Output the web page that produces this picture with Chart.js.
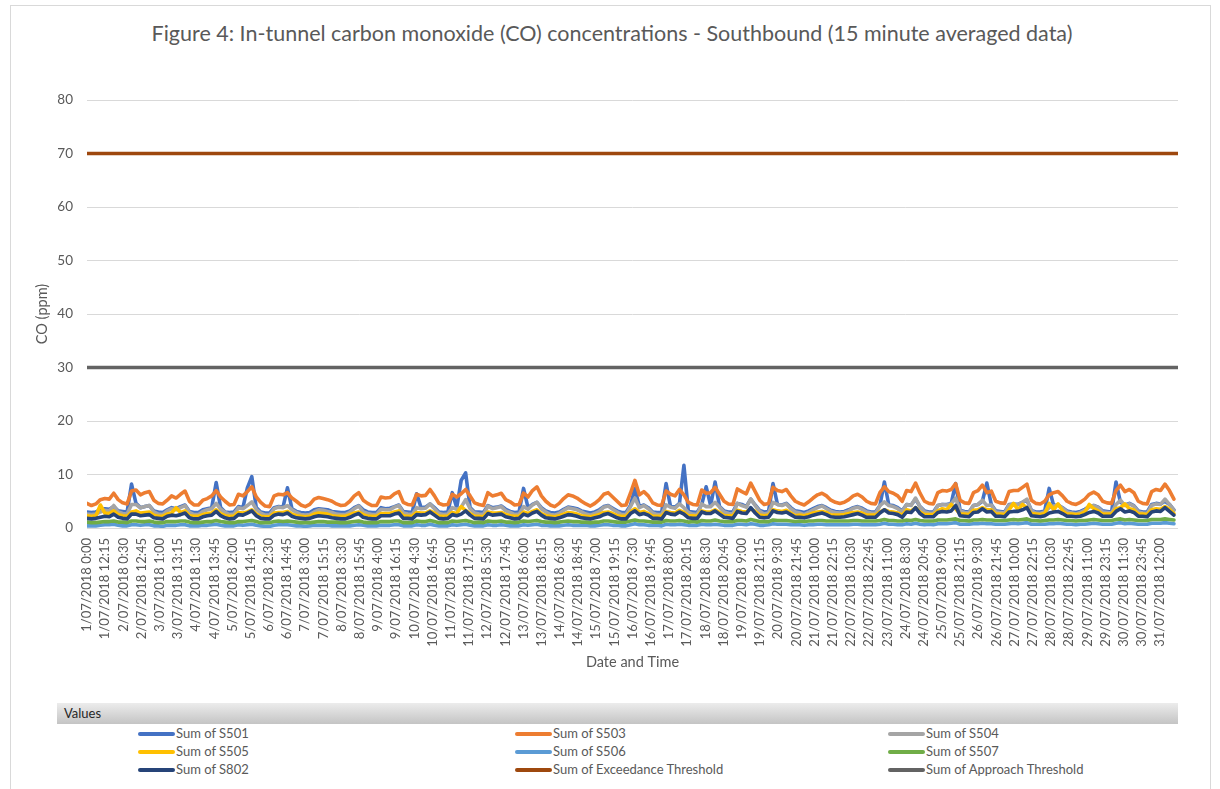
<!DOCTYPE html>
<html>
<head>
<meta charset="utf-8">
<script src="https://cdn.jsdelivr.net/npm/chart.js@4.4.1/dist/chart.umd.min.js"></script>
<style>
  html, body { margin:0; padding:0; background:#fff; }
  body { width:1220px; height:789px; position:relative; overflow:hidden; font-family:Lato, "DejaVu Sans", sans-serif; }
  #frame { position:absolute; left:10px; top:5px; width:1201px; height:820px; border:1px solid #d9d9d9; box-sizing:border-box; }
  #title { position:absolute; left:0; top:20px; width:1224px; text-align:center; font-size:21.5px; color:#595959; white-space:nowrap; }
  #c { position:absolute; left:0; top:0; }
  #valuesBar { position:absolute; left:57px; top:703px; width:1121px; height:21px; background:linear-gradient(#ececec,#c4c4c4); font-size:13px; color:#262626; line-height:21px; padding-left:7px; box-sizing:border-box; }
  #legend { position:absolute; left:0; top:724px; width:1220px; height:60px; }
  .li { position:absolute; height:18px; line-height:18px; font-size:13px; color:#595959; white-space:nowrap; }
  .li span.sw { display:inline-block; width:37px; height:4px; border-radius:2px; vertical-align:middle; margin-right:1px; position:relative; top:-1px; }
</style>
</head>
<body>
<div id="frame"></div>
<div id="title">Figure 4: In-tunnel carbon monoxide (CO) concentrations - Southbound (15 minute averaged data)</div>
<canvas id="c" width="1220" height="700"></canvas>
<div id="valuesBar">Values</div>
<div id="legend"></div>
<script>
// x-axis tick labels (one every 49 fifteen-minute samples)
const tickLabels = ['1/07/2018 0:00','1/07/2018 12:15','2/07/2018 0:30','2/07/2018 12:45','3/07/2018 1:00','3/07/2018 13:15','4/07/2018 1:30','4/07/2018 13:45','5/07/2018 2:00','5/07/2018 14:15','6/07/2018 2:30','6/07/2018 14:45','7/07/2018 3:00','7/07/2018 15:15','8/07/2018 3:30','8/07/2018 15:45','9/07/2018 4:00','9/07/2018 16:15','10/07/2018 4:30','10/07/2018 16:45','11/07/2018 5:00','11/07/2018 17:15','12/07/2018 5:30','12/07/2018 17:45','13/07/2018 6:00','13/07/2018 18:15','14/07/2018 6:30','14/07/2018 18:45','15/07/2018 7:00','15/07/2018 19:15','16/07/2018 7:30','16/07/2018 19:45','17/07/2018 8:00','17/07/2018 20:15','18/07/2018 8:30','18/07/2018 20:45','19/07/2018 9:00','19/07/2018 21:15','20/07/2018 9:30','20/07/2018 21:45','21/07/2018 10:00','21/07/2018 22:15','22/07/2018 10:30','22/07/2018 22:45','23/07/2018 11:00','24/07/2018 8:30','24/07/2018 20:45','25/07/2018 9:00','25/07/2018 21:15','26/07/2018 9:30','26/07/2018 21:45','27/07/2018 10:00','27/07/2018 22:15','28/07/2018 10:30','28/07/2018 22:45','29/07/2018 11:00','29/07/2018 23:15','30/07/2018 11:30','30/07/2018 23:45','31/07/2018 12:00'];

// series values, one value per 3 hours (12 fifteen-minute samples)
const S501 = [
3.0,2.9,3.0,3.4,3.6,3.5,4.0,3.2, 3.1,3.0,8.2,4.6,3.8,4.0,4.2,3.2, 3.0,2.9,3.4,3.8,3.6,4.0,4.3,3.1, 2.9,2.9,3.4,3.6,3.8,8.5,3.8,3.0,
2.9,3.0,4.0,3.8,7.5,9.6,3.8,3.0, 2.8,2.8,3.8,4.0,3.9,7.5,3.6,3.1, 2.9,2.8,2.9,3.4,3.6,3.5,3.4,3.1, 3.0,2.9,2.9,3.2,3.8,4.2,3.4,3.0,
2.9,2.9,3.8,3.6,3.7,4.0,4.3,3.1, 3.0,2.9,6.4,3.8,3.9,4.5,3.8,3.0, 2.9,3.0,6.6,3.8,8.9,10.3,3.8,3.0, 3.0,2.9,4.2,3.8,3.9,4.1,3.5,3.1,
2.9,3.0,7.4,3.8,4.4,4.8,3.8,3.2, 2.9,2.8,3.0,3.5,3.9,3.8,3.6,3.2, 3.0,2.8,3.0,3.4,4.0,4.2,3.7,3.2, 2.9,2.9,4.2,7.4,4.0,4.3,3.8,3.0,
2.9,2.9,8.3,4.0,3.9,4.6,11.7,3.1, 3.0,2.9,4.4,7.7,4.2,8.6,4.0,3.2, 3.0,3.0,4.6,4.4,4.0,5.4,4.3,3.3, 3.0,3.1,8.3,4.4,4.3,4.6,3.8,3.2,
3.1,2.9,3.2,3.6,4.0,4.2,3.8,3.3, 3.1,3.0,3.1,3.4,3.8,4.0,3.7,3.2, 3.0,3.0,4.2,8.6,4.3,4.2,3.8,3.2, 4.4,4.3,5.4,4.0,3.2,
3.0,3.0,4.2,4.4,4.4,4.6,8.3,3.3, 3.1,3.0,4.2,4.4,5.0,8.4,4.4,3.2, 3.1,3.0,4.4,4.5,4.4,4.8,5.2,3.3, 3.0,3.0,3.2,7.4,4.2,4.3,3.8,3.2,
3.0,2.9,3.1,3.5,4.0,4.2,3.9,3.2, 3.1,3.0,8.6,4.8,4.3,4.6,4.2,3.2, 3.0,3.0,4.4,4.6,4.5,5.0,4.4,3.4];

const S503 = [
4.6,4.2,4.5,5.3,5.5,5.4,6.5,5.3, 4.7,4.5,6.9,7.1,6.2,6.6,6.8,5.2, 4.6,4.5,5.2,6.0,5.6,6.3,6.9,5.0, 4.3,4.3,5.2,5.5,6.0,7.0,5.8,5.0,
4.3,4.4,6.3,6.0,6.8,7.7,5.8,4.8, 4.1,4.0,6.0,6.3,6.2,6.6,5.6,5.0, 4.3,4.0,4.4,5.4,5.7,5.5,5.3,5.0, 4.5,4.2,4.3,5.0,6.0,6.6,5.2,4.6,
4.2,4.2,5.8,5.6,5.7,6.4,6.8,4.8, 4.4,4.3,6.3,6.0,6.1,7.2,6.0,4.6, 4.3,4.4,6.3,5.8,6.4,7.2,6.0,4.7, 4.4,4.2,6.6,6.0,6.2,6.5,5.3,4.9,
4.3,4.4,6.5,5.8,7.0,7.7,6.0,5.0, 4.3,4.0,4.6,5.5,6.2,6.0,5.6,5.0, 4.5,4.1,4.6,5.3,6.3,6.6,5.8,5.0, 4.2,4.3,6.5,8.9,6.2,6.8,6.0,4.7,
4.3,4.2,6.9,6.3,6.0,7.2,6.2,4.8, 4.4,4.3,7.1,6.5,6.6,7.6,6.3,5.0, 4.5,4.4,7.3,6.8,6.4,8.4,6.8,5.2, 4.4,4.6,7.6,7.0,6.8,7.2,6.0,5.0,
4.6,4.3,4.9,5.6,6.2,6.5,6.0,5.2, 4.8,4.6,4.8,5.3,6.0,6.3,5.8,5.0, 4.6,4.5,6.6,7.7,6.8,6.5,6.0,5.0, 7.0,6.8,8.4,6.5,5.0,
4.6,4.5,6.6,7.0,6.9,7.2,8.3,5.2, 4.7,4.6,6.6,7.0,8.0,6.6,6.9,5.0, 4.7,4.6,6.8,7.0,7.0,7.6,8.2,5.2, 4.6,4.5,5.0,6.2,6.6,6.8,6.0,5.0,
4.6,4.4,4.8,5.4,6.3,6.7,6.2,5.0, 4.7,4.6,7.0,8.0,6.8,7.2,6.6,5.0, 4.6,4.5,6.8,7.2,7.0,8.2,7.0,5.4];

const S504 = [
2.6,2.5,2.6,3.0,3.3,3.2,4.2,3.0, 2.7,2.6,4.4,4.4,3.8,4.0,4.2,3.0, 2.6,2.5,3.2,3.6,3.4,3.8,4.2,2.9, 2.5,2.5,3.1,3.4,3.6,4.6,3.5,2.9,
2.5,2.6,3.8,3.6,4.2,4.9,3.5,2.8, 2.4,2.4,3.6,3.9,3.8,4.2,3.4,2.9, 2.5,2.4,2.5,3.0,3.4,3.3,3.1,2.9, 2.6,2.5,2.5,2.9,3.6,4.1,3.0,2.7,
2.5,2.5,3.5,3.4,3.4,3.9,4.2,2.8, 2.6,2.5,3.8,3.6,3.7,4.5,3.6,2.7, 2.5,2.6,3.8,3.5,3.9,5.3,3.6,2.8, 2.6,2.5,4.1,3.6,3.8,4.0,3.2,2.9,
2.5,2.6,4.0,3.5,4.3,4.8,3.6,3.0, 2.5,2.4,2.7,3.3,3.8,3.6,3.4,3.0, 2.6,2.4,2.7,3.1,3.9,4.1,3.5,3.0, 2.5,2.5,4.0,5.6,3.8,4.2,3.6,2.8,
2.5,2.5,4.3,3.9,3.7,4.5,3.8,2.9, 2.6,2.5,4.5,4.0,4.0,4.8,3.9,3.0, 2.7,2.6,4.6,4.2,3.9,5.4,4.2,3.1, 2.6,2.8,4.8,4.4,4.2,4.5,3.6,3.0,
2.8,2.5,2.9,3.4,3.8,4.1,3.6,3.1, 2.9,2.8,2.9,3.2,3.7,3.9,3.5,3.0, 2.8,2.7,4.2,4.9,4.2,4.0,3.6,3.0, 4.4,4.2,5.6,4.0,3.0,
2.8,2.7,4.2,4.4,4.3,4.5,5.6,3.2, 2.9,2.8,4.2,4.4,5.2,4.2,4.3,3.0, 2.9,2.8,4.3,4.4,4.4,4.8,5.4,3.2, 2.8,2.7,3.0,3.8,4.1,4.3,3.7,3.0,
2.8,2.6,2.9,3.3,3.9,4.2,3.8,3.0, 2.9,2.8,4.4,5.2,4.2,4.5,4.1,3.0, 2.8,2.7,4.2,4.5,4.4,5.4,4.4,3.3];

const S505 = [
2.3,2.2,2.3,4.3,2.8,2.7,3.2,2.5, 2.3,2.2,3.0,3.2,2.8,2.9,3.0,2.4, 2.2,2.2,2.6,2.8,3.8,2.9,3.2,2.3, 2.2,2.2,2.5,2.7,2.8,3.4,2.7,2.3,
2.2,2.2,2.9,2.8,3.0,3.4,2.6,2.2, 2.1,2.1,2.8,2.9,2.9,3.1,2.6,2.3, 2.2,2.1,2.2,2.6,2.8,2.7,2.6,2.3, 2.2,2.2,2.2,2.5,2.8,3.0,2.5,2.2,
2.2,2.2,2.7,2.7,2.7,3.0,3.2,2.3, 2.2,2.2,2.9,2.8,2.8,3.2,2.8,2.2, 2.2,2.2,2.9,2.7,4.0,3.3,2.7,2.2, 2.2,2.1,3.0,2.8,2.8,2.9,2.5,2.3,
2.2,2.2,3.0,2.7,3.1,3.4,2.7,2.3, 2.2,2.1,2.3,2.6,2.9,2.8,2.6,2.3, 2.2,2.1,2.3,2.5,2.9,3.0,2.7,2.3, 2.2,2.2,3.0,3.6,2.9,3.1,2.7,2.2,
2.2,2.2,3.1,2.9,2.8,3.3,2.9,2.3, 2.3,2.2,3.2,3.0,3.0,3.4,2.9,2.3, 2.3,2.3,3.3,3.1,3.0,3.6,3.1,2.4, 2.3,2.4,3.4,3.2,3.1,3.3,2.8,2.3,
2.4,2.3,2.5,2.8,3.0,3.1,2.9,2.4, 2.4,2.4,2.5,2.7,2.9,3.0,2.8,2.4, 2.4,2.4,3.0,3.4,3.1,3.0,2.8,2.4, 3.4,3.2,3.8,3.0,2.5,
2.5,2.5,3.2,3.6,3.4,4.4,3.6,2.6, 2.6,2.5,3.3,3.4,3.8,3.4,3.4,2.6, 2.6,2.5,3.4,4.6,3.4,4.4,3.8,2.7, 2.6,2.5,2.7,4.6,3.4,4.5,3.2,2.6,
2.6,2.5,2.6,3.0,4.4,3.6,3.2,2.6, 2.6,2.6,3.6,3.8,4.5,3.6,3.4,2.6, 2.6,2.5,3.4,3.6,3.5,4.0,3.5,2.7];

const S506 = [
0.4,0.4,0.4,0.5,0.6,0.6,0.7,0.5, 0.4,0.4,0.6,0.6,0.5,0.6,0.6,0.4, 0.4,0.3,0.5,0.5,0.5,0.6,0.6,0.4, 0.4,0.4,0.5,0.5,0.6,0.7,0.5,0.4,
0.4,0.4,0.6,0.5,0.6,0.7,0.5,0.4, 0.3,0.3,0.5,0.6,0.6,0.6,0.5,0.4, 0.4,0.3,0.4,0.5,0.5,0.5,0.5,0.4, 0.4,0.4,0.4,0.4,0.5,0.6,0.5,0.4,
0.4,0.4,0.5,0.5,0.5,0.6,0.6,0.4, 0.4,0.4,0.6,0.5,0.5,0.7,0.5,0.4, 0.4,0.4,0.6,0.5,0.6,0.7,0.5,0.4, 0.4,0.4,0.6,0.5,0.5,0.6,0.5,0.4,
0.4,0.4,0.6,0.5,0.6,0.7,0.5,0.5, 0.4,0.4,0.4,0.5,0.6,0.5,0.5,0.5, 0.5,0.4,0.4,0.5,0.6,0.6,0.5,0.5, 0.4,0.4,0.6,0.8,0.6,0.6,0.5,0.5,
0.5,0.4,0.7,0.6,0.6,0.7,0.6,0.5, 0.5,0.5,0.7,0.6,0.6,0.7,0.6,0.5, 0.5,0.5,0.7,0.7,0.6,0.8,0.7,0.5, 0.5,0.6,0.8,0.7,0.7,0.7,0.6,0.6,
0.6,0.5,0.6,0.6,0.7,0.7,0.6,0.6, 0.6,0.6,0.6,0.6,0.7,0.7,0.6,0.6, 0.6,0.6,0.7,0.9,0.7,0.7,0.6,0.6, 0.8,0.7,0.9,0.7,0.6,
0.7,0.6,0.8,0.8,0.8,0.9,1.0,0.7, 0.7,0.7,0.8,0.8,0.9,0.8,0.8,0.7, 0.7,0.7,0.8,0.9,0.8,0.9,1.0,0.7, 0.7,0.7,0.7,0.8,0.8,0.9,0.8,0.7,
0.7,0.6,0.7,0.7,0.8,0.9,0.8,0.7, 0.7,0.7,0.9,1.0,0.8,0.9,0.8,0.7, 0.7,0.7,0.9,0.9,0.9,1.0,0.9,0.8];

const S507 = [
1.1,1.0,1.0,1.1,1.2,1.2,1.3,1.1, 1.1,1.0,1.3,1.3,1.2,1.2,1.3,1.1, 1.0,1.0,1.2,1.2,1.2,1.3,1.3,1.1, 1.0,1.0,1.1,1.2,1.2,1.4,1.2,1.1,
1.0,1.0,1.2,1.2,1.3,1.4,1.2,1.0, 1.0,1.0,1.2,1.3,1.2,1.3,1.2,1.1, 1.0,1.0,1.0,1.1,1.2,1.2,1.1,1.1, 1.1,1.0,1.0,1.1,1.2,1.3,1.1,1.0,
1.0,1.0,1.2,1.2,1.2,1.3,1.3,1.0, 1.0,1.0,1.3,1.2,1.2,1.4,1.2,1.0, 1.0,1.0,1.3,1.2,1.3,1.4,1.2,1.0, 1.1,1.0,1.3,1.2,1.2,1.3,1.1,1.1,
1.0,1.1,1.3,1.2,1.3,1.4,1.2,1.1, 1.1,1.0,1.1,1.2,1.3,1.2,1.2,1.1, 1.1,1.0,1.1,1.1,1.3,1.3,1.2,1.1, 1.1,1.1,1.3,1.5,1.3,1.3,1.2,1.1,
1.1,1.1,1.4,1.3,1.3,1.4,1.3,1.1, 1.2,1.1,1.4,1.3,1.3,1.5,1.3,1.2, 1.2,1.2,1.4,1.4,1.3,1.6,1.4,1.2, 1.2,1.2,1.5,1.4,1.4,1.4,1.3,1.2,
1.3,1.2,1.3,1.3,1.4,1.4,1.3,1.3, 1.3,1.3,1.3,1.3,1.4,1.4,1.3,1.3, 1.3,1.3,1.4,1.6,1.4,1.4,1.3,1.3, 1.5,1.4,1.6,1.4,1.3,
1.3,1.3,1.5,1.5,1.5,1.6,1.7,1.4, 1.4,1.3,1.5,1.5,1.6,1.5,1.5,1.4, 1.4,1.4,1.5,1.6,1.5,1.6,1.7,1.4, 1.4,1.3,1.4,1.5,1.5,1.6,1.5,1.4,
1.4,1.3,1.4,1.4,1.5,1.6,1.5,1.4, 1.4,1.4,1.6,1.7,1.5,1.6,1.5,1.4, 1.4,1.4,1.6,1.6,1.6,1.7,1.6,1.5];

const S802 = [
1.8,1.7,1.8,2.0,2.2,2.1,2.6,2.0, 1.8,1.7,2.6,2.6,2.3,2.4,2.5,1.9, 1.8,1.7,2.2,2.4,2.3,2.5,2.8,1.9, 1.7,1.7,2.1,2.3,2.4,3.1,2.3,1.9,
1.7,1.8,2.5,2.4,2.8,3.2,2.3,1.8, 1.7,1.7,2.4,2.6,2.5,2.8,2.2,1.9, 1.8,1.7,1.8,2.1,2.3,2.2,2.1,1.9, 1.8,1.7,1.7,2.0,2.4,2.7,2.0,1.8,
1.7,1.7,2.3,2.3,2.3,2.6,2.8,1.8, 1.8,1.7,2.5,2.4,2.5,3.0,2.4,1.8, 1.7,1.8,2.5,2.3,2.6,3.2,2.4,1.8, 1.8,1.7,2.7,2.4,2.5,2.6,2.1,1.9,
1.7,1.8,2.6,2.3,2.8,3.1,2.4,1.9, 1.8,1.7,1.9,2.2,2.5,2.4,2.2,1.9, 1.8,1.7,1.9,2.1,2.5,2.7,2.3,1.9, 1.7,1.7,2.7,3.2,2.5,2.7,2.4,1.8,
1.8,1.7,2.9,2.6,2.5,3.0,2.6,1.9, 1.8,1.8,3.0,2.7,2.7,3.2,2.6,2.0, 1.9,1.8,3.1,2.8,2.7,3.8,2.8,2.0, 1.9,2.0,3.2,2.9,2.8,3.0,2.5,2.0,
2.0,1.9,2.1,2.4,2.6,2.8,2.5,2.1, 2.0,2.0,2.1,2.3,2.5,2.7,2.4,2.0, 2.0,2.0,2.8,3.4,2.8,2.7,2.5,2.0, 3.0,2.9,3.8,2.7,2.1,
2.1,2.1,2.9,3.1,3.0,3.2,4.2,2.3, 2.2,2.1,2.9,3.0,3.6,3.0,3.1,2.2, 2.2,2.1,3.0,3.1,3.1,3.4,3.8,2.3, 2.2,2.1,2.3,2.8,3.0,3.1,2.7,2.2,
2.2,2.1,2.2,2.5,2.9,3.1,2.8,2.2, 2.2,2.2,3.1,3.6,3.0,3.2,2.9,2.2, 2.2,2.1,3.0,3.2,3.1,3.8,3.1,2.4];

const EXCEEDANCE = 70;
const APPROACH = 30;

const STEP = 12;          // fifteen-minute samples per stored value
const LABEL_EVERY = 49;   // fifteen-minute samples between axis labels
const LAST_SAMPLE = 2939;

function pts(arr) { return arr.map((v, i) => ({ x: i * STEP, y: v })); }
function flat(v) { return [{ x: 0, y: v }, { x: LAST_SAMPLE, y: v }]; }

const seriesDefs = [
  ['Sum of S501', S501, '#4472C4'],
  ['Sum of S503', S503, '#ED7D31'],
  ['Sum of S504', S504, '#A5A5A5'],
  ['Sum of S505', S505, '#FFC000'],
  ['Sum of S506', S506, '#5B9BD5'],
  ['Sum of S507', S507, '#70AD47'],
  ['Sum of S802', S802, '#264478'],
];
const datasets = seriesDefs.map((d, k) => ({
  label: d[0], data: pts(d[1]), borderColor: d[2], backgroundColor: d[2],
  borderWidth: 3.6, pointRadius: 0, tension: 0, fill: false,
  borderJoinStyle: 'round', borderCapStyle: 'round', order: 8 - k
}));
datasets.push({ label: 'Sum of Exceedance Threshold', data: flat(EXCEEDANCE), borderColor: '#9E480E', backgroundColor: '#9E480E', borderWidth: 3.5, pointRadius: 0, fill: false, order: 1 });
datasets.push({ label: 'Sum of Approach Threshold', data: flat(APPROACH), borderColor: '#636363', backgroundColor: '#636363', borderWidth: 3.5, pointRadius: 0, fill: false, order: 0 });

const FONT = 'Lato';
const chart = new Chart(document.getElementById('c'), {
  type: 'line',
  data: { datasets },
  options: {
    responsive: false,
    animation: false,
    layout: { padding: { left: 0, right: 42, top: 100, bottom: 0 } },
    plugins: { legend: { display: false }, tooltip: { enabled: false } },
    scales: {
      x: {
        type: 'linear', min: 0, max: LAST_SAMPLE,
        afterBuildTicks: (s) => { s.ticks = tickLabels.map((t, k) => ({ value: k * LABEL_EVERY })); },
        afterFit: (s) => { s.height = 700 - 528; },
        ticks: {
          autoSkip: false, maxRotation: 90, minRotation: 90, padding: 10,
          color: '#595959', font: { family: FONT, size: 13 },
          callback: (v) => tickLabels[Math.round(v / LABEL_EVERY)] || ''
        },
        grid: { display: false, drawTicks: false },
        border: { display: false },
        title: { display: true, text: 'Date and Time', color: '#595959', font: { family: FONT, size: 14.5 }, padding: { top: 0, bottom: 29 } }
      },
      y: {
        min: 0, max: 80,
        afterFit: (s) => { s.width = 87; },
        ticks: { stepSize: 10, padding: 14, color: '#595959', font: { family: FONT, size: 13.5 } },
        grid: { color: '#d9d9d9', lineWidth: 1, drawTicks: false },
        border: { display: false },
        title: { display: true, text: 'CO (ppm)', color: '#595959', font: { family: FONT, size: 14.5 }, padding: { top: 34, bottom: 0 } }
      }
    }
  }
});

// HTML legend built from the chart's datasets (3 columns x 3 rows)
const colLeft = [138, 515, 888];
const rowTop = [0, 18, 36];
const legendEl = document.getElementById('legend');
chart.data.datasets.forEach((ds, k) => {
  const el = document.createElement('div');
  el.className = 'li';
  el.style.left = colLeft[k % 3] + 'px';
  el.style.top = rowTop[Math.floor(k / 3)] + 'px';
  const sw = document.createElement('span');
  sw.className = 'sw';
  sw.style.background = ds.borderColor;
  el.appendChild(sw);
  el.appendChild(document.createTextNode(ds.label));
  legendEl.appendChild(el);
});
</script>
</body>
</html>
